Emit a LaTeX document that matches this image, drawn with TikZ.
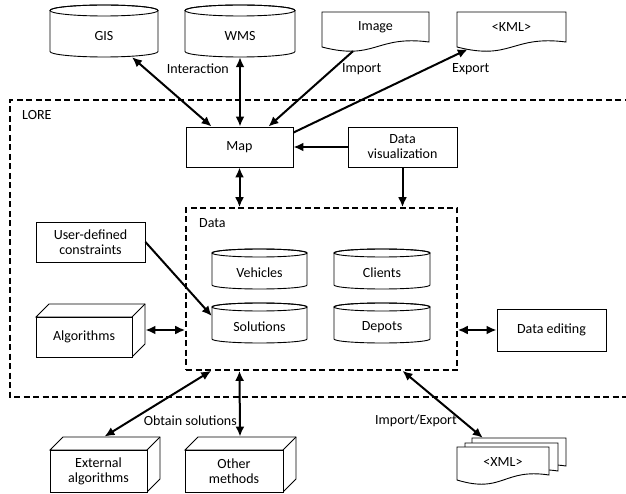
\documentclass[tikz,border=0pt]{standalone}
\usepackage{fontspec}
\setmainfont{Carlito}
\usetikzlibrary{arrows.meta,calc}

% database cylinder: name, x1, y1, x2, y2, cap radius, label
\newcommand\dbcyl[7]{%
  \pgfmathsetmacro\cylhw{(#4-#2)/2}%
  \draw[boxline,fill=white] (#2,#3+#6) -- (#2,#5-#6)
    arc[start angle=180,end angle=360,x radius=\cylhw pt,y radius=#6pt]
    -- (#4,#3+#6)
    arc[start angle=0,end angle=180,x radius=\cylhw pt,y radius=#6pt] -- cycle;
  \draw[boxline] ({(#2+#4)/2},#3+#6) ellipse[x radius=\cylhw pt,y radius=#6pt];
  \node[inner sep=0pt,minimum width={#4pt-#2pt},minimum height={#5pt-#3pt}]
    (#1) at ({(#2+#4)/2},{(#3+#5)/2}) {};
  \node[inner sep=0pt] (#1-t) at ({(#2+#4)/2},{(#3+#5)/2+#6}) {#7};
}

% document with wavy lower edge: name, x1, y1, x2, left bottom y, label
\newcommand\docshape[6]{%
  \draw[boxline,fill=white] (#2,#3) -- (#4,#3) -- (#4,#5-5)
    .. controls ({#2+0.5*(#4-#2)},#5-12) and ({#2+0.5*(#4-#2)},#5+14) .. (#2,#5) -- cycle;
  \node[inner sep=0pt,minimum width={#4pt-#2pt},minimum height={#5pt-#3pt}]
    (#1) at ({(#2+#4)/2},{(#3+#5)/2}) {};
  \node[inner sep=0pt] (#1-t) at ({(#2+#4)/2},#3+15) {#6};
}

% 3D block: name, front face x1, y1, x2, y2, label
\newcommand\block[6]{%
  \draw[boxline,fill=white] (#2,#3) -- (#2+13,#3-13) -- (#4+13,#3-13)
    -- (#4+13,#5-13) -- (#4,#5) -- (#4,#3) -- cycle;
  \draw[boxline] (#4,#3) -- (#4+13,#3-13);
  \node[plainbox,minimum width={#4pt-#2pt},minimum height={#5pt-#3pt}]
    (#1) at ({(#2+#4)/2},{(#3+#5)/2}) {#6};
}

% plain rectangle: name, x1, y1, x2, y2, label
\newcommand\boxat[6]{%
  \node[plainbox,minimum width={#4pt-#2pt},minimum height={#5pt-#3pt}]
    (#1) at ({(#2+#4)/2},{(#3+#5)/2}) {#6};
}

\begin{document}
\begin{tikzpicture}[x=1pt,y=-1pt,
  font=\fontsize{14}{15}\selectfont,
  boxline/.style={draw=black,line width=0.9pt},
  plainbox/.style={boxline,fill=white,rectangle,inner sep=0pt,align=center},
  container/.style={draw=black,line width=1.6pt,dash pattern=on 6pt off 3.5pt},
  link/.style={line width=2pt,-{Latex[length=10pt,width=9pt]}},
  biglink/.style={line width=2pt,{Latex[length=10pt,width=9pt]}-{Latex[length=10pt,width=9pt]}},
  lbl/.style={inner sep=0pt}
]
\useasboundingbox (0,0) rectangle (626,494);

% LORE frame (open to the right)
\draw[container] (640,100) -- (10,100) -- (10,397) -- (640,397);
\node[lbl,anchor=west] (lab-lore) at (22,115) {LORE};

% data store frame
\node[container,rectangle,inner sep=0pt,minimum width=271pt,minimum height=162pt]
  (data) at (321.5,289) {};
\node[lbl,anchor=west] (lab-data) at (199,223) {Data};

% external sources
\dbcyl{gis}{50}{5}{158}{57}{5.5}{GIS}
\dbcyl{wms}{185}{5}{295}{57}{5.5}{WMS}
\docshape{img}{322}{12}{429}{47}{Image}
\docshape{kml}{457}{12}{566}{47}{<KML>}

% core
\boxat{map}{186}{127}{293}{167}{Map}
\boxat{dv}{348}{127}{457}{167}{Data\\visualization}
\boxat{uc}{36}{222}{145}{262}{User-defined\\constraints}
\boxat{de}{497}{309}{606}{351}{Data editing}
\block{alg}{36}{317}{132}{357}{Algorithms}

\dbcyl{veh}{212}{249}{307}{289}{4}{Vehicles}
\dbcyl{sol}{212}{303}{307}{343}{4}{Solutions}
\dbcyl{cli}{334}{249}{430}{289}{4}{Clients}
\dbcyl{dep}{334}{303}{430}{343}{4}{Depots}

% outside, bottom
\block{ext}{50}{450}{147}{492}{External\\algorithms}
\block{oth}{185}{450}{283}{492}{Other\\methods}
\docshape{xmlc}{472}{438}{566}{471}{}
\docshape{xmlb}{465}{443}{558}{476}{}
\docshape{xmla}{457}{447}{549}{480}{<XML>}

% connectors
\draw[biglink] ([shift={(28,0)}]gis.south) -- ([shift={(26,0)}]map.north west);
\draw[biglink] (wms.south) -- (wms.south |- map.north);
\draw[link] ([shift={(-22.5,4)}]img.south) -- ([shift={(-25,0)}]map.north east);
\draw[link] ([shift={(0,6)}]map.north east) -- ([shift={(11,2)}]kml.south west);
\draw[link] (dv.west) -- (map.east);
\draw[link] (dv.south) -- (dv.south |- data.north);
\draw[biglink] (map.south) -- (map.south |- data.north);
\draw[link] (uc.east) -- ([shift={(0,-7)}]sol.west);
\coordinate (algside) at ([shift={(13,-7)}]alg.east);
\draw[biglink] (algside) -- (algside -| data.west);
\draw[biglink] (de.west -| data.east) -- (de.west);
\draw[biglink] ([shift={(26,0)}]data.south west) -- ([shift={(6,-13)}]ext.north);
\draw[biglink] (data.south -| map.south) -- ([shift={(6,-13)}]oth.north);
\draw[biglink] (data.south -| dv.south) -- ([shift={(11,0)}]xmlc.north west);

% connector labels
\node[lbl,anchor=east] (lab-int) at (229,69) {Interaction};
\node[lbl,anchor=west] (lab-imp) at (342,69) {Import};
\node[lbl,anchor=west] (lab-exp) at (452,69) {Export};
\node[lbl,anchor=east] (lab-obt) at (237,421) {Obtain solutions};
\node[lbl,anchor=west] (lab-ie) at (375,421) {Import/Export};
\end{tikzpicture}
\end{document}
